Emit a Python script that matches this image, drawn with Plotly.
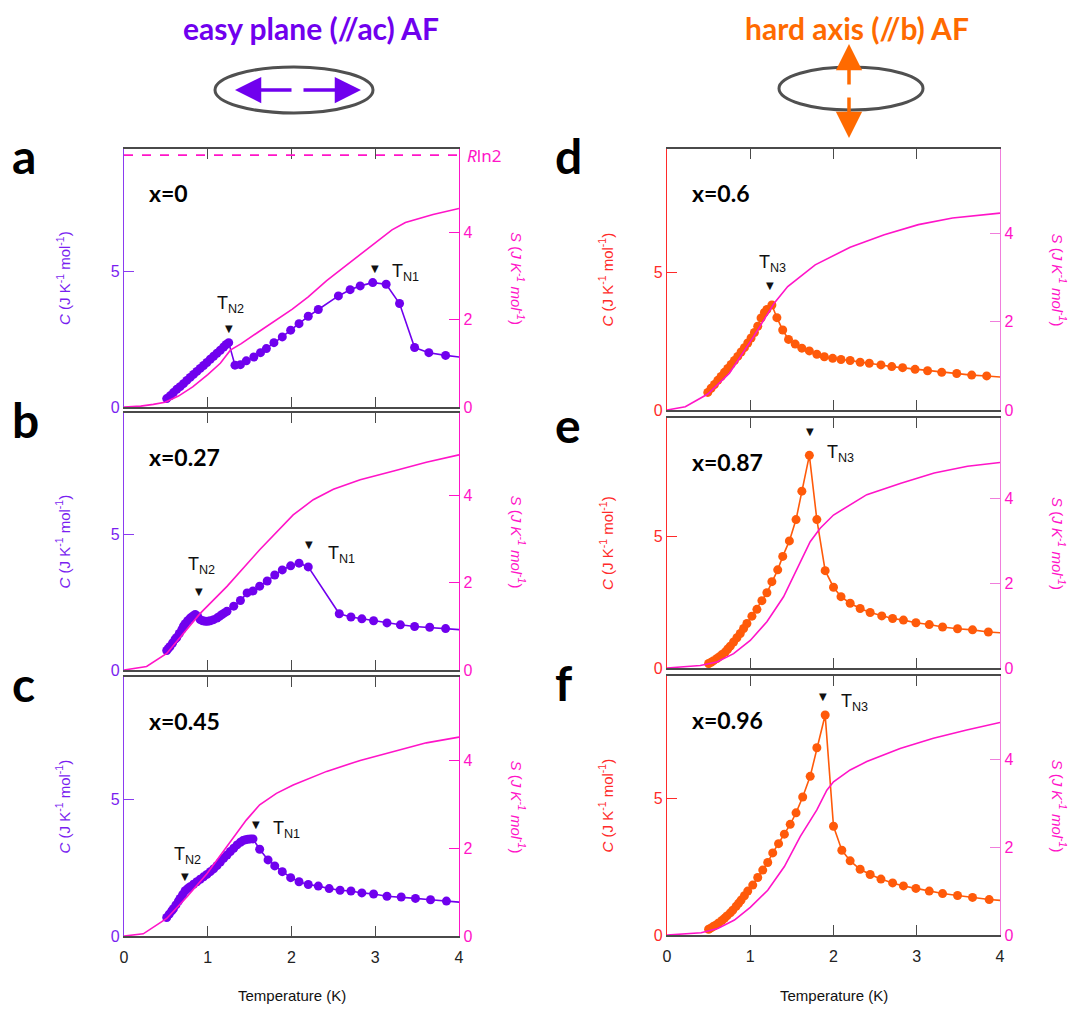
import plotly.graph_objects as go

# the page adds an 8 px body margin; the figure is sized and placed so that it lands on the reference
OFF = 8
W, H = 1072, 1002

# ---------------- data ----------------
# panel a : x = 0
T_a = [0.51, 0.55, 0.59, 0.63, 0.67, 0.71, 0.75, 0.79, 0.83, 0.87, 0.91, 0.95, 0.99, 1.03, 1.07, 1.11, 1.15, 1.19,
       1.22, 1.25, 1.325, 1.39, 1.46, 1.55, 1.63, 1.70, 1.79, 1.89, 1.99, 2.09, 2.20, 2.32, 2.56, 2.70, 2.82, 2.97,
       3.13, 3.29, 3.47, 3.64, 3.84, 4.2]
C_a = [0.31, 0.41, 0.53, 0.65, 0.75, 0.86, 0.98, 1.09, 1.20, 1.31, 1.42, 1.53, 1.64, 1.76, 1.87, 1.98, 2.09, 2.21,
       2.30, 2.37, 1.54, 1.56, 1.70, 1.84, 2.00, 2.15, 2.37, 2.58, 2.83, 3.07, 3.34, 3.59, 4.09, 4.32, 4.46, 4.58,
       4.52, 3.81, 2.19, 2.00, 1.90, 1.77]
TS_a = [0, 0.2, 0.35, 0.49, 0.65, 0.82, 1.0, 1.15, 1.27, 1.4, 1.6, 1.8, 2.01, 2.2, 2.42, 2.6, 2.83, 3.08, 3.2,
        3.36, 3.5, 3.69, 4.0]
S_a = [0, 0.02, 0.06, 0.11, 0.25, 0.46, 0.74, 1.0, 1.3, 1.45, 1.71, 1.97, 2.24, 2.52, 2.89, 3.16, 3.5, 3.88, 4.05,
       4.22, 4.3, 4.4, 4.54]

# panel b : x = 0.27
T_b = [0.51, 0.53, 0.55, 0.58, 0.61, 0.63, 0.66, 0.69, 0.71, 0.73, 0.76, 0.79, 0.82, 0.85, 0.88, 0.91, 0.94, 0.97,
       1.00, 1.03, 1.07, 1.11, 1.14, 1.17, 1.20, 1.23, 1.31, 1.39, 1.47, 1.54, 1.62, 1.71, 1.80, 1.89, 1.99, 2.09,
       2.20, 2.57, 2.71, 2.84, 2.98, 3.14, 3.30, 3.47, 3.65, 3.84, 4.2]
C_b = [0.72, 0.80, 0.87, 1.00, 1.14, 1.20, 1.35, 1.49, 1.62, 1.71, 1.82, 1.92, 1.99, 2.05, 1.98, 1.86, 1.82, 1.80,
       1.80, 1.82, 1.86, 1.92, 1.98, 2.05, 2.11, 2.17, 2.36, 2.57, 2.85, 2.92, 3.10, 3.29, 3.51, 3.70, 3.85, 3.95,
       3.81, 2.08, 1.96, 1.89, 1.82, 1.74, 1.67, 1.61, 1.58, 1.53, 1.45]
TS_b = [0, 0.27, 0.51, 0.71, 0.91, 1.23, 1.62, 2.02, 2.26, 2.50, 2.82, 3.22, 3.61, 4.0]
S_b = [0, 0.08, 0.38, 0.84, 1.30, 1.92, 2.76, 3.56, 3.91, 4.15, 4.37, 4.57, 4.77, 4.94]

# panel c : x = 0.45
T_c = [0.51, 0.54, 0.57, 0.59, 0.62, 0.65, 0.67, 0.70, 0.73, 0.76, 0.79, 0.83, 0.87, 0.91, 0.95, 0.99, 1.03, 1.07,
       1.11, 1.15, 1.19, 1.23, 1.27, 1.31, 1.35, 1.39, 1.42, 1.45, 1.48, 1.51, 1.54, 1.62, 1.72, 1.80, 1.89, 1.99,
       2.09, 2.20, 2.32, 2.45, 2.58, 2.71, 2.84, 2.98, 3.14, 3.31, 3.48, 3.66, 3.85, 4.2]
C_c = [0.68, 0.80, 0.92, 1.00, 1.14, 1.28, 1.38, 1.52, 1.66, 1.74, 1.81, 1.90, 1.99, 2.08, 2.17, 2.26, 2.36, 2.46,
       2.58, 2.71, 2.85, 2.97, 3.10, 3.22, 3.34, 3.44, 3.50, 3.53, 3.55, 3.56, 3.56, 3.18, 2.79, 2.57, 2.36, 2.14,
       1.99, 1.89, 1.83, 1.74, 1.68, 1.65, 1.58, 1.54, 1.46, 1.43, 1.38, 1.33, 1.28, 1.19]
TS_c = [0, 0.23, 0.51, 0.75, 0.99, 1.23, 1.46, 1.62, 1.82, 2.02, 2.42, 2.82, 3.22, 3.61, 4.0]
S_c = [0, 0.05, 0.40, 0.89, 1.42, 2.03, 2.64, 2.99, 3.25, 3.44, 3.75, 4.00, 4.21, 4.40, 4.53]

# panel d : x = 0.6
T_d = [0.49, 0.53, 0.57, 0.61, 0.65, 0.69, 0.73, 0.77, 0.81, 0.85, 0.89, 0.93, 0.97, 1.01, 1.05, 1.09, 1.13, 1.17,
       1.20, 1.26, 1.32, 1.39, 1.46, 1.54, 1.62, 1.71, 1.80, 1.89, 1.99, 2.09, 2.20, 2.32, 2.43, 2.57, 2.70, 2.83,
       2.98, 3.13, 3.30, 3.48, 3.66, 3.84, 4.2]
C_d = [0.64, 0.79, 0.93, 1.08, 1.22, 1.37, 1.51, 1.66, 1.80, 1.95, 2.11, 2.27, 2.44, 2.62, 2.82, 3.05, 3.35, 3.55,
       3.66, 3.82, 3.36, 2.91, 2.57, 2.40, 2.25, 2.15, 2.03, 1.94, 1.88, 1.84, 1.80, 1.74, 1.70, 1.64, 1.58, 1.54,
       1.48, 1.43, 1.37, 1.33, 1.27, 1.24, 1.15]
TS_d = [0, 0.22, 0.49, 0.75, 1.04, 1.29, 1.45, 1.78, 2.2, 2.61, 3.02, 3.43, 4.0]
S_d = [0, 0.075, 0.36, 0.83, 1.66, 2.42, 2.79, 3.28, 3.68, 3.96, 4.19, 4.34, 4.45]

# panel e : x = 0.87
T_e = [0.50, 0.53, 0.56, 0.60, 0.63, 0.66, 0.70, 0.73, 0.76, 0.80, 0.84, 0.88, 0.92, 0.96, 1.02, 1.08, 1.14, 1.20,
       1.26, 1.33, 1.39, 1.47, 1.55, 1.62, 1.71, 1.80, 1.90, 2.00, 2.09, 2.20, 2.32, 2.44, 2.58, 2.71, 2.84, 2.99,
       3.15, 3.31, 3.49, 3.67, 3.86, 4.2]
C_e = [0.17, 0.22, 0.28, 0.36, 0.43, 0.51, 0.61, 0.72, 0.83, 0.99, 1.15, 1.31, 1.50, 1.69, 1.97, 2.23, 2.56, 2.86,
       3.28, 3.73, 4.24, 4.83, 5.64, 6.72, 8.08, 5.64, 3.70, 3.07, 2.71, 2.46, 2.26, 2.11, 1.98, 1.88, 1.82, 1.72,
       1.65, 1.56, 1.49, 1.45, 1.37, 1.30]
TS_e = [0, 0.40, 0.60, 0.80, 1.0, 1.20, 1.40, 1.60, 1.72, 1.84, 2.0, 2.40, 2.81, 3.21, 3.61, 4.0]
S_e = [0, 0.06, 0.14, 0.34, 0.65, 1.09, 1.68, 2.47, 2.98, 3.30, 3.61, 4.09, 4.36, 4.60, 4.76, 4.85]

# panel f : x = 0.96
T_f = [0.50, 0.53, 0.56, 0.59, 0.62, 0.66, 0.69, 0.72, 0.76, 0.79, 0.83, 0.86, 0.89, 0.93, 0.97, 1.03, 1.09, 1.15,
       1.21, 1.27, 1.34, 1.41, 1.48, 1.55, 1.63, 1.72, 1.80, 1.90, 2.00, 2.10, 2.20, 2.32, 2.44, 2.57, 2.71, 2.84,
       2.99, 3.15, 3.31, 3.49, 3.67, 3.87, 4.2]
C_f = [0.21, 0.26, 0.32, 0.37, 0.44, 0.53, 0.61, 0.70, 0.81, 0.91, 1.05, 1.16, 1.28, 1.44, 1.61, 1.83, 2.11, 2.38,
       2.66, 3.01, 3.35, 3.70, 4.06, 4.48, 5.06, 5.82, 6.87, 8.07, 3.99, 3.11, 2.72, 2.41, 2.22, 2.05, 1.91, 1.80,
       1.71, 1.61, 1.52, 1.45, 1.38, 1.30, 1.22]
TS_f = [0, 0.41, 0.61, 0.81, 1.0, 1.21, 1.41, 1.60, 1.80, 1.92, 2.0, 2.20, 2.40, 2.80, 3.20, 3.60, 4.0]
S_f = [0, 0.05, 0.15, 0.34, 0.63, 1.02, 1.56, 2.24, 2.85, 3.30, 3.49, 3.76, 3.95, 4.25, 4.48, 4.67, 4.84]

RLN2 = 5.76
x_ticks = [0, 1, 2, 3, 4]
c_ticks = [0, 5]
s_ticks = [0, 2, 4]

# transition markers: (T, C) of the triangle, (T, C) of the label, label text
marks_a = [(1.25, 2.89, 1.27, 3.78, "T<sub>N2</sub>"), (3.0, 5.10, 3.36, 4.97, "T<sub>N1</sub>")]
marks_b = [(0.90, 2.89, 0.93, 3.85, "T<sub>N2</sub>"), (2.21, 4.63, 2.60, 4.28, "T<sub>N1</sub>")]
marks_c = [(0.73, 2.17, 0.76, 2.97, "T<sub>N2</sub>"), (1.58, 4.08, 1.94, 3.92, "T<sub>N1</sub>")]
marks_d = [(1.24, 4.53, 1.27, 5.34, "T<sub>N3</sub>")]
marks_e = [(1.72, 8.97, 2.09, 8.16, "T<sub>N3</sub>")]
marks_f = [(1.87, 8.76, 2.25, 8.51, "T<sub>N3</sub>")]

# ---------------- styling ----------------
PURPLE = "#7000ee"
PURPLE_AX = "#8a3cf0"
ORANGE = "#ff5a0a"
ORANGE_HDR = "#ff6a00"
RED = "#ff2a2a"
MAGENTA = "#ff14c8"
PINK_AX = "#f07ddc"
GRAY = "#4a4a4a"
ELL = "#505050"

LEFT_X = (124, 459)
RIGHT_X = (667, 1000)

panels = [
    dict(letter="a", T=T_a, C=C_a, TS=TS_a, S=S_a, xp=LEFT_X, yp=(149, 407), lab="x=0", marks=marks_a, left=True),
    dict(letter="b", T=T_b, C=C_b, TS=TS_b, S=S_b, xp=LEFT_X, yp=(413, 670), lab="x=0.27", marks=marks_b, left=True),
    dict(letter="c", T=T_c, C=C_c, TS=TS_c, S=S_c, xp=LEFT_X, yp=(677, 936), lab="x=0.45", marks=marks_c, left=True),
    dict(letter="d", T=T_d, C=C_d, TS=TS_d, S=S_d, xp=RIGHT_X, yp=(149, 410), lab="x=0.6", marks=marks_d, left=False),
    dict(letter="e", T=T_e, C=C_e, TS=TS_e, S=S_e, xp=RIGHT_X, yp=(418, 668), lab="x=0.87", marks=marks_e, left=False),
    dict(letter="f", T=T_f, C=C_f, TS=TS_f, S=S_f, xp=RIGHT_X, yp=(676, 935), lab="x=0.96", marks=marks_f, left=False),
]


def px_x(v):
    return (v - OFF) / W


def px_y(v):
    return 1 - (v - OFF) / H


def nm(prefix, n):
    return prefix if n == 1 else f"{prefix}{n}"


fig = go.Figure()
layout = {}
annotations = []
shapes = []

TICKFONT = dict(family="Liberation Sans, Arial", size=16)

for i, p in enumerate(panels):
    xn = i + 1
    yl = 2 * i + 1
    yr = 2 * i + 2
    xname, ylname, yrname = nm("x", xn), nm("y", yl), nm("y", yr)
    col_main = PURPLE if p["left"] else ORANGE
    col_ax = PURPLE_AX if p["left"] else RED
    col_lab = "#7a1ef0" if p["left"] else RED
    col_rax = MAGENTA if p["left"] else PINK_AX
    bottom = p["letter"] in ("c", "f")

    fig.add_trace(go.Scatter(x=p["TS"], y=p["S"], mode="lines", line=dict(color=MAGENTA, width=1.6),
                             xaxis=xname, yaxis=yrname, hoverinfo="skip"))
    fig.add_trace(go.Scatter(x=p["T"], y=p["C"], mode="lines+markers", line=dict(color=col_main, width=1.6),
                             marker=dict(color=col_main, size=9), xaxis=xname, yaxis=ylname))

    xd = [px_x(p["xp"][0]), px_x(p["xp"][1])]
    yd = [px_y(p["yp"][1]), px_y(p["yp"][0])]
    layout[nm("xaxis", xn)] = dict(
        domain=xd, range=[0, 4], anchor=ylname, tickvals=x_ticks, ticks="inside", ticklen=10,
        tickcolor=GRAY, tickwidth=1.2, showline=True, linecolor=GRAY, linewidth=1.6, mirror="ticks",
        showgrid=False, zeroline=False, showticklabels=bottom, tickfont=dict(color="#222", **TICKFONT),
        ticklabelstandoff=6, automargin=False,
    )
    layout[nm("yaxis", yl)] = dict(
        domain=yd, range=[0, 9.5], anchor=xname, tickvals=c_ticks, ticks="inside", ticklen=10,
        tickcolor=col_ax, showline=True, linecolor=col_ax, linewidth=1.2, showgrid=False, zeroline=False,
        tickfont=dict(color=col_lab, **TICKFONT), automargin=False,
    )
    layout[nm("yaxis", yr)] = dict(
        domain=yd, range=[0, 5.9], anchor=xname, overlaying=ylname, side="right", tickvals=s_ticks,
        ticks="inside", ticklen=10, tickcolor=col_rax, showline=True, linecolor=col_rax, linewidth=1.4,
        showgrid=False, zeroline=False, tickfont=dict(color=MAGENTA, **TICKFONT), automargin=False,
    )

    yc = (p["yp"][0] + p["yp"][1]) / 2
    # C axis title
    annotations.append(dict(
        x=px_x(p["xp"][0] - 61), y=px_y(yc), xref="paper", yref="paper", showarrow=False, textangle=-90,
        text="<i>C</i> (J K<sup>-1</sup> mol<sup>-1</sup>)", font=dict(family="Liberation Sans, Arial", size=15,
                                                                        color=col_lab),
        xanchor="center", yanchor="middle"))
    # S axis title
    annotations.append(dict(
        x=px_x(p["xp"][1] + 59), y=px_y(yc), xref="paper", yref="paper", showarrow=False, textangle=90,
        text="<i>S</i> (<i>J K<sup>-1</sup> mol<sup>-1</sup></i>)", font=dict(family="Liberation Sans, Arial",
                                                                                 size=15, color=MAGENTA),
        xanchor="center", yanchor="middle"))
    # panel letter
    annotations.append(dict(
        x=px_x(p["xp"][0] - 114), y=px_y(p["yp"][0] + 6), xref="paper", yref="paper", showarrow=False,
        text=f"<b>{p['letter']}</b>", font=dict(family="Lato", size=48, color="#000"),
        xanchor="left", yanchor="middle"))
    # composition label
    annotations.append(dict(
        x=px_x(p["xp"][0] + 23), y=px_y(p["yp"][0] + 44), xref="paper", yref="paper", showarrow=False,
        text=f"<b>{p['lab']}</b>", font=dict(family="Lato", size=23, color="#000"),
        xanchor="left", yanchor="middle"))
    # transition markers
    for (tx, ty, lx, ly, txt) in p["marks"]:
        annotations.append(dict(x=tx, y=ty, xref=xname, yref=ylname, showarrow=False, text="▼",
                                font=dict(family="DejaVu Sans", size=10, color="#111"),
                                xanchor="center", yanchor="middle"))
        annotations.append(dict(x=lx, y=ly, xref=xname, yref=ylname, showarrow=False, text=txt,
                                font=dict(family="Liberation Sans, Arial", size=18, color="#111"),
                                xanchor="center", yanchor="middle"))
    if bottom:
        annotations.append(dict(
            x=px_x((p["xp"][0] + p["xp"][1]) / 2), y=px_y(995), xref="paper", yref="paper", showarrow=False,
            text="Temperature (K)", font=dict(family="Liberation Sans, Arial", size=15, color="#111"),
            xanchor="center", yanchor="middle"))

# R ln 2 line in panel a
shapes.append(dict(type="line", xref="x", yref="y2", x0=0, x1=4, y0=RLN2, y1=RLN2,
                   line=dict(color=MAGENTA, width=1.6, dash="dash")))
annotations.append(dict(x=px_x(465), y=RLN2, xref="paper", yref="y2", showarrow=False,
                        text="<i>R</i>ln2", font=dict(family="Noto Sans", size=17, color=MAGENTA),
                        xanchor="left", yanchor="middle"))

# headers (top of the text box sits at the top edge of the figure)
annotations.append(dict(x=px_x(311), y=1, xref="paper", yref="paper", showarrow=False,
                        text="<b>easy plane (//ac) AF</b>", font=dict(family="Lato", size=30, color=PURPLE),
                        xanchor="center", yanchor="top"))
annotations.append(dict(x=px_x(857), y=1, xref="paper", yref="paper", showarrow=False,
                        text="<b>hard axis (//b) AF</b>", font=dict(family="Lato", size=30, color=ORANGE_HDR),
                        xanchor="center", yanchor="top"))

# ellipses
shapes.append(dict(type="circle", xref="paper", yref="paper", x0=px_x(215), x1=px_x(373),
                   y0=px_y(113), y1=px_y(67), line=dict(color=ELL, width=3)))
shapes.append(dict(type="circle", xref="paper", yref="paper", x0=px_x(779), x1=px_x(923),
                   y0=px_y(110), y1=px_y(67), line=dict(color=ELL, width=3)))

# spin arrows
for (tx, ty, ax, ay, c) in [(235, 90, 58, 0, PURPLE), (361, 90, -59, 0, PURPLE),
                            (849, 44, 0, 42, ORANGE_HDR), (849, 138, 0, -42, ORANGE_HDR)]:
    annotations.append(dict(x=px_x(tx), y=px_y(ty), xref="paper", yref="paper", ax=ax, ay=ay,
                            axref="pixel", ayref="pixel", showarrow=True, text="", arrowhead=2,
                            arrowsize=1.5, arrowwidth=3.5, arrowcolor=c))

fig.update_layout(
    width=W, height=H, margin=dict(l=0, r=0, t=0, b=0), paper_bgcolor="white", plot_bgcolor="white",
    showlegend=False, annotations=annotations, shapes=shapes, **layout)

fig.write_html("out.html")
